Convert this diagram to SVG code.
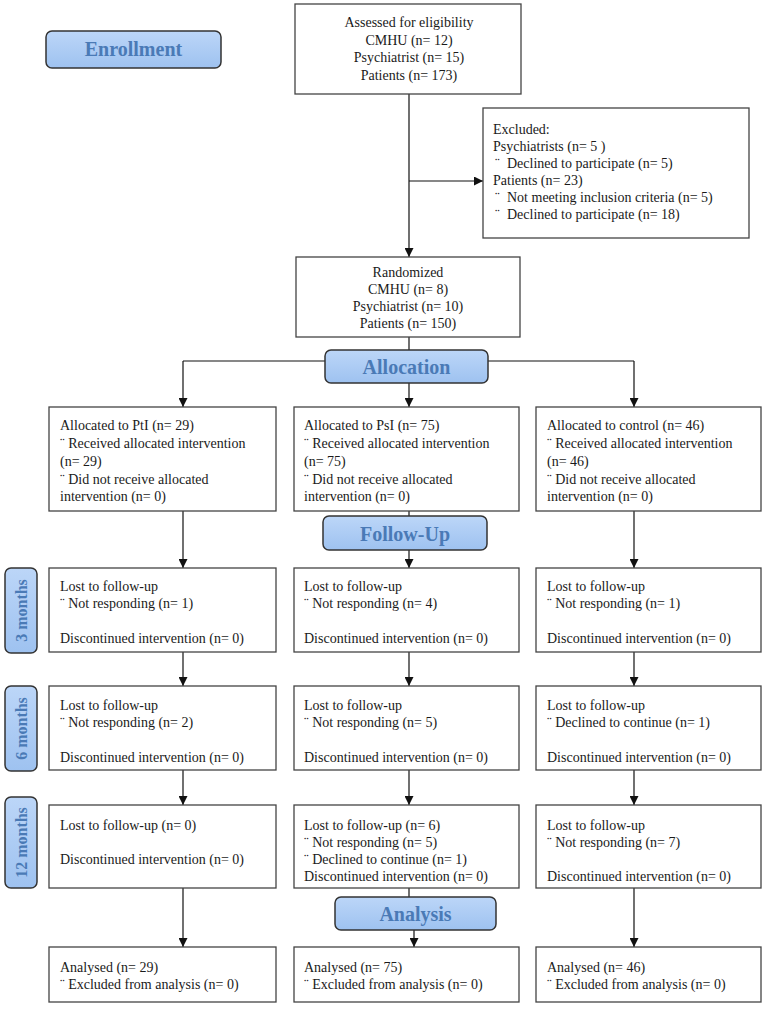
<svg xmlns="http://www.w3.org/2000/svg" width="767" height="1011" viewBox="0 0 767 1011">
<defs>
<linearGradient id="hg" x1="0" y1="0" x2="0" y2="1">
<stop offset="0" stop-color="#bcd6f8"/>
<stop offset="1" stop-color="#9ec2f0"/>
</linearGradient>
<marker id="ar" viewBox="0 0 10 10" refX="10" refY="5" markerWidth="9" markerHeight="9" markerUnits="userSpaceOnUse" orient="auto">
<path d="M0,0 L10,5 L0,10 z" fill="#111"/>
</marker>
<style>
.box{fill:#fff;stroke:#444;stroke-width:1.3}
.hdr{fill:url(#hg);stroke:#333;stroke-width:1.5}
.ht{font-family:"Liberation Serif","Times New Roman",serif;font-weight:bold;font-size:20px;fill:#4a7ab6;text-anchor:middle}
.st{font-family:"Liberation Serif","Times New Roman",serif;font-weight:bold;font-size:16px;fill:#4a7ab6;text-anchor:middle}
.t{font-family:"Liberation Serif","Times New Roman",serif;font-size:14px;fill:#1a1a1a}
.c{text-anchor:middle}
.ln{fill:none;stroke:#111;stroke-width:1.2}
.la{fill:none;stroke:#111;stroke-width:1.2;marker-end:url(#ar)}
</style>
</defs>
<rect width="767" height="1011" fill="#fff"/>

<g id="connectors">
<path class="la" d="M409,94 V257"/>
<path class="la" d="M409,181 H483"/>
<path class="ln" d="M409,337 V350"/>
<path class="ln" d="M325,361 H183"/>
<path class="ln" d="M488,361 H634"/>
<path class="la" d="M183,361 V407"/>
<path class="la" d="M634,361 V407"/>
<path class="la" d="M409,383 V407"/>
<path class="la" d="M183,511 V568"/>
<path class="ln" d="M409,511 V516"/>
<path class="la" d="M409,550 V568"/>
<path class="la" d="M634,511 V568"/>
<path class="la" d="M183,652 V686"/>
<path class="la" d="M409,652 V686"/>
<path class="la" d="M634,652 V686"/>
<path class="la" d="M183,770 V805"/>
<path class="la" d="M409,770 V805"/>
<path class="la" d="M634,770 V805"/>
<path class="la" d="M183,888 V947"/>
<path class="ln" d="M409,888 V897"/>
<path class="la" d="M414,930 V947"/>
<path class="la" d="M634,888 V947"/>
</g>

<g id="enrollment">
<rect class="hdr" x="46" y="31" width="175" height="37" rx="6"/>
<text class="ht" x="133.5" y="56">Enrollment</text>
</g>

<g id="assessed">
<rect class="box" x="295" y="4" width="226" height="90"/>
<text class="t c" x="409" y="27">Assessed for eligibility</text>
<text class="t c" x="409" y="45">CMHU (n= 12)</text>
<text class="t c" x="409" y="62">Psychiatrist (n= 15)</text>
<text class="t c" x="409" y="80">Patients (n= 173)</text>
</g>

<g id="excluded">
<rect class="box" x="483" y="108" width="266" height="130"/>
<text class="t" x="493" y="134">Excluded:</text>
<text class="t" x="493" y="151">Psychiatrists (n= 5 )</text>
<text class="t" x="495" y="168">¨</text>
<text class="t" x="507" y="168">Declined to participate (n= 5)</text>
<text class="t" x="493" y="185">Patients (n= 23)</text>
<text class="t" x="495" y="202">¨</text>
<text class="t" x="507" y="202">Not meeting inclusion criteria (n= 5)</text>
<text class="t" x="495" y="219">¨</text>
<text class="t" x="507" y="219">Declined to participate (n= 18)</text>
</g>

<g id="randomized">
<rect class="box" x="296" y="257" width="224" height="80"/>
<text class="t c" x="408" y="277">Randomized</text>
<text class="t c" x="408" y="294">CMHU (n= 8)</text>
<text class="t c" x="408" y="311">Psychiatrist (n= 10)</text>
<text class="t c" x="408" y="328">Patients (n= 150)</text>
</g>

<g id="allocation">
<rect class="hdr" x="325" y="350" width="163" height="33" rx="6"/>
<text class="ht" x="406.5" y="374">Allocation</text>
</g>

<g id="alloc-pti">
<rect class="box" x="49" y="407" width="227" height="104"/>
<text class="t" x="60" y="430">Allocated to PtI (n= 29)</text>
<text class="t" x="60" y="448">¨ Received allocated intervention</text>
<text class="t" x="60" y="466">(n= 29)</text>
<text class="t" x="60" y="484">¨ Did not receive allocated</text>
<text class="t" x="60" y="501">intervention (n= 0)</text>
</g>
<g id="alloc-psi">
<rect class="box" x="294" y="407" width="225" height="104"/>
<text class="t" x="304" y="430">Allocated to PsI (n= 75)</text>
<text class="t" x="304" y="448">¨ Received allocated intervention</text>
<text class="t" x="304" y="466">(n= 75)</text>
<text class="t" x="304" y="484">¨ Did not receive allocated</text>
<text class="t" x="304" y="501">intervention (n= 0)</text>
</g>
<g id="alloc-control">
<rect class="box" x="536" y="407" width="225" height="104"/>
<text class="t" x="547" y="430">Allocated to control (n= 46)</text>
<text class="t" x="547" y="448">¨ Received allocated intervention</text>
<text class="t" x="547" y="466">(n= 46)</text>
<text class="t" x="547" y="484">¨ Did not receive allocated</text>
<text class="t" x="547" y="501">intervention (n= 0)</text>
</g>

<g id="followup">
<rect class="hdr" x="323" y="516" width="164" height="34" rx="6"/>
<text class="ht" x="405" y="541">Follow-Up</text>
</g>

<g id="label-3m">
<rect class="hdr" x="5" y="568" width="32" height="85" rx="6"/>
<text class="st" transform="translate(27,610.5) rotate(-90)">3 months</text>
</g>
<g id="label-6m">
<rect class="hdr" x="5" y="686" width="32" height="85" rx="6"/>
<text class="st" transform="translate(27,728.5) rotate(-90)">6 months</text>
</g>
<g id="label-12m">
<rect class="hdr" x="5" y="797" width="32" height="91" rx="6"/>
<text class="st" transform="translate(27,842.5) rotate(-90)">12 months</text>
</g>

<g id="m3-pti">
<rect class="box" x="49" y="568" width="227" height="84"/>
<text class="t" x="60" y="591">Lost to follow-up</text>
<text class="t" x="60" y="608">¨ Not responding (n= 1)</text>
<text class="t" x="60" y="643">Discontinued intervention (n= 0)</text>
</g>
<g id="m3-psi">
<rect class="box" x="294" y="568" width="225" height="84"/>
<text class="t" x="304" y="591">Lost to follow-up</text>
<text class="t" x="304" y="608">¨ Not responding (n= 4)</text>
<text class="t" x="304" y="643">Discontinued intervention (n= 0)</text>
</g>
<g id="m3-control">
<rect class="box" x="536" y="568" width="225" height="84"/>
<text class="t" x="547" y="591">Lost to follow-up</text>
<text class="t" x="547" y="608">¨ Not responding (n= 1)</text>
<text class="t" x="547" y="643">Discontinued intervention (n= 0)</text>
</g>

<g id="m6-pti">
<rect class="box" x="49" y="686" width="227" height="84"/>
<text class="t" x="60" y="710">Lost to follow-up</text>
<text class="t" x="60" y="727">¨ Not responding (n= 2)</text>
<text class="t" x="60" y="762">Discontinued intervention (n= 0)</text>
</g>
<g id="m6-psi">
<rect class="box" x="294" y="686" width="225" height="84"/>
<text class="t" x="304" y="710">Lost to follow-up</text>
<text class="t" x="304" y="727">¨ Not responding (n= 5)</text>
<text class="t" x="304" y="762">Discontinued intervention (n= 0)</text>
</g>
<g id="m6-control">
<rect class="box" x="536" y="686" width="225" height="84"/>
<text class="t" x="547" y="710">Lost to follow-up</text>
<text class="t" x="547" y="727">¨ Declined to continue (n= 1)</text>
<text class="t" x="547" y="762">Discontinued intervention (n= 0)</text>
</g>

<g id="m12-pti">
<rect class="box" x="49" y="805" width="227" height="83"/>
<text class="t" x="60" y="830">Lost to follow-up (n= 0)</text>
<text class="t" x="60" y="864">Discontinued intervention (n= 0)</text>
</g>
<g id="m12-psi">
<rect class="box" x="294" y="805" width="225" height="83"/>
<text class="t" x="304" y="830">Lost to follow-up (n= 6)</text>
<text class="t" x="304" y="847">¨ Not responding (n= 5)</text>
<text class="t" x="304" y="864">¨ Declined to continue (n= 1)</text>
<text class="t" x="304" y="881">Discontinued intervention (n= 0)</text>
</g>
<g id="m12-control">
<rect class="box" x="536" y="805" width="225" height="83"/>
<text class="t" x="547" y="830">Lost to follow-up</text>
<text class="t" x="547" y="847">¨ Not responding (n= 7)</text>
<text class="t" x="547" y="881">Discontinued intervention (n= 0)</text>
</g>

<g id="analysis">
<rect class="hdr" x="335" y="897" width="161" height="33" rx="6"/>
<text class="ht" x="415.5" y="921">Analysis</text>
</g>

<g id="an-pti">
<rect class="box" x="49" y="947" width="227" height="55"/>
<text class="t" x="60" y="972">Analysed  (n= 29)</text>
<text class="t" x="60" y="989">¨ Excluded from analysis (n= 0)</text>
</g>
<g id="an-psi">
<rect class="box" x="294" y="947" width="225" height="55"/>
<text class="t" x="304" y="972">Analysed  (n= 75)</text>
<text class="t" x="304" y="989">¨ Excluded from analysis (n= 0)</text>
</g>
<g id="an-control">
<rect class="box" x="536" y="947" width="225" height="55"/>
<text class="t" x="547" y="972">Analysed  (n= 46)</text>
<text class="t" x="547" y="989">¨ Excluded from analysis (n= 0)</text>
</g>
</svg>
